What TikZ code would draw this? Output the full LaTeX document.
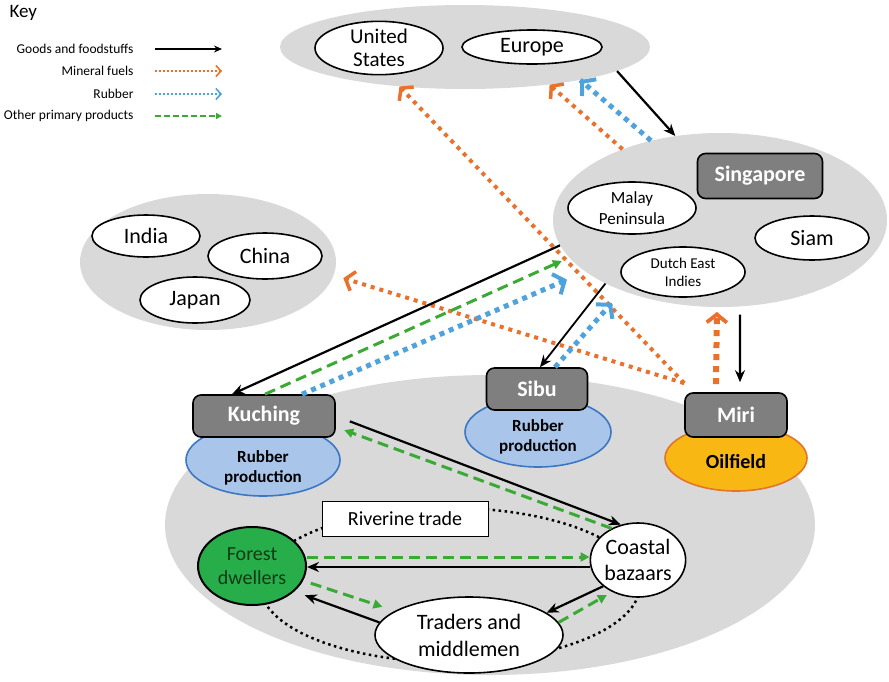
\documentclass[tikz,border=0pt]{standalone}
\usepackage{fontspec}
\setmainfont{Carlito}
\usetikzlibrary{arrows.meta,shapes.geometric,calc,decorations.markings}

\definecolor{grpgray}{HTML}{D9D9D9}
\definecolor{boxgray}{HTML}{7F7F7F}
\definecolor{fuelorange}{HTML}{E9712B}
\definecolor{rubberblue}{HTML}{4EA3DC}
\definecolor{primgreen}{HTML}{3AAA35}
\definecolor{rubfill}{HTML}{A9C6EA}
\definecolor{rubedge}{HTML}{3D77C2}
\definecolor{oilfill}{HTML}{F8B712}
\definecolor{oiledge}{HTML}{E3742A}
\definecolor{forestfill}{HTML}{27AE4A}
\definecolor{foresttext}{HTML}{103A16}

\newcommand{\fsz}[2]{\fontsize{#1}{#2}\selectfont}

\begin{document}
\begin{tikzpicture}[x=1pt, y=-1pt,
    grp/.style={ellipse, fill=grpgray, inner sep=0pt},
    place/.style={ellipse, draw, line width=1.6pt, fill=white, inner sep=0pt, align=center},
    town/.style={rectangle, rounded corners=8pt, draw, line width=1.6pt, fill=boxgray,
        text=white, font=\fsz{22}{24}\bfseries, inner sep=0pt},
    rubber/.style={ellipse, draw=rubedge, line width=1.6pt, fill=rubfill, inner sep=0pt},
    keytext/.style={anchor=east, font=\fsz{13.5}{15}},
    barbtip/.style={postaction=decorate, decoration={markings,
        mark=at position 1 with {\pgfsetdash{}{0pt}\arrow{Straight Barb[#1]}}}},
    goods/.style={line width=2.2pt, -{Stealth[length=12pt,width=10pt]}},
    fuel/.style={fuelorange, line width=4pt, dash pattern=on 4pt off 5pt,
        barbtip={length=8pt,width=20pt,line width=3.5pt}},
    rubberflow/.style={rubberblue, line width=5pt, dash pattern=on 5pt off 5pt,
        barbtip={length=9pt,width=22pt,line width=4pt}},
    other/.style={primgreen, line width=3pt, dash pattern=on 11pt off 6pt,
        -{Triangle[length=9pt,width=9pt]}}]

    \useasboundingbox (0,0) rectangle (889,681);

    % key
    \node[anchor=west, font=\fsz{19}{21}] (keytitle) at (6,13) {Key};
    \node[keytext] (kgoods) at (137,49) {Goods and foodstuffs};
    \node[keytext] (kfuel) at (137,71) {Mineral fuels};
    \node[keytext] (krubber) at (137,94) {Rubber};
    \node[keytext] (kother) at (137,116) {Other primary products};
    \draw[line width=1.8pt, -{Stealth[length=8pt,width=7pt]}]
        ([xshift=18pt]kgoods.east) -- ([xshift=85pt]kgoods.east);
    \draw[fuelorange, line width=1.8pt, dash pattern=on 2pt off 2pt,
        barbtip={length=5pt,width=11pt,line width=1.6pt}]
        ([xshift=18pt]kfuel.east) -- ([xshift=85pt]kfuel.east);
    \draw[rubberblue, line width=1.8pt, dash pattern=on 2pt off 2pt,
        barbtip={length=5pt,width=11pt,line width=1.6pt}]
        ([xshift=18pt]krubber.east) -- ([xshift=85pt]krubber.east);
    \draw[primgreen, line width=2.2pt, dash pattern=on 6pt off 3pt,
        -{Triangle[length=6pt,width=6pt]}]
        ([xshift=18pt]kother.east) -- ([xshift=85pt]kother.east);

    % markets overseas
    \node[grp, minimum width=370pt, minimum height=84pt] (westgrp) at (465,47) {};
    \node[place, minimum width=128pt, minimum height=50pt, font=\fsz{21}{23}] (us) at (379,48) {United\\States};
    \node[place, minimum width=140pt, minimum height=34pt, font=\fsz{22}{24}] (europe) at (532,47) {Europe};

    \node[grp, minimum width=334pt, minimum height=174pt] (sggrp) at (720,220) {};
    \node[town, minimum width=125pt, minimum height=45pt] (sg) at (760,176) {Singapore};
    \node[place, minimum width=128pt, minimum height=52pt, font=\fsz{17}{21}] (malay) at (632,208) {Malay\\Peninsula};
    \node[place, minimum width=114pt, minimum height=44pt, font=\fsz{22}{24}] (siam) at (812,238) {Siam};
    \node[place, minimum width=124pt, minimum height=50pt, font=\fsz{15}{18}] (dei) at (683,272) {Dutch East\\Indies};

    \node[grp, minimum width=256pt, minimum height=136pt] (asiagrp) at (208,262) {};
    \node[place, minimum width=108pt, minimum height=42pt, font=\fsz{22}{24}] (india) at (146,236) {India};
    \node[place, minimum width=114pt, minimum height=46pt, font=\fsz{22}{24}] (china) at (265,256) {China};
    \node[place, minimum width=110pt, minimum height=46pt, font=\fsz{22}{24}] (japan) at (195,300) {Japan};

    % Sarawak
    \node[grp, minimum width=650pt, minimum height=300pt] (sarawak) at (490,525) {};
    \node[ellipse, draw, line width=2.5pt, dash pattern=on 2.5pt off 3.5pt,
        minimum width=380pt, minimum height=154pt] (riverloop) at (450,585) {};

    \node[rubber, minimum width=154pt, minimum height=72pt,
        label={[yshift=-8pt, align=center, font=\fsz{17}{20}\bfseries]center:Rubber\\production}] (kurub) at (263,460) {};
    \node[town, minimum width=142pt, minimum height=42pt] (kuching) at (264,416) {Kuching};
    \node[rubber, minimum width=146pt, minimum height=70pt,
        label={[yshift=-5pt, align=center, font=\fsz{17}{20}\bfseries]center:Rubber\\production}] (sirub) at (538,432) {};
    \node[town, minimum width=101pt, minimum height=42pt] (sibu) at (537,389) {Sibu};
    \node[ellipse, draw=oiledge, line width=1.6pt, fill=oilfill, minimum width=142pt, minimum height=66pt,
        label={[yshift=-4pt, font=\fsz{20}{22}\bfseries]center:Oilfield}] (oil) at (736,458) {};
    \node[town, minimum width=102pt, minimum height=44pt] (miri) at (736,415) {Miri};

    \node[draw, line width=1pt, fill=white, minimum width=166pt, minimum height=35pt,
        inner sep=0pt, font=\fsz{20}{22}] (river) at (405,519) {Riverine trade};
    \node[ellipse, draw, line width=2pt, fill=forestfill, text=foresttext, align=center,
        minimum width=108pt, minimum height=78pt, inner sep=0pt, font=\fsz{20}{24}] (forest) at (252,566) {Forest\\dwellers};
    \node[place, minimum width=86pt, minimum height=74pt, font=\fsz{22}{26}] (coast) at (638,560) {Coastal\\bazaars};
    \node[place, minimum width=188pt, minimum height=76pt, font=\fsz{22}{27}] (traders) at (469,635) {Traders and\\middlemen};

    \coordinate (mirifuel) at ([yshift=9pt]miri.north west);
    \coordinate (mirioil) at ([xshift=-20pt,yshift=8pt]miri.north);
    \coordinate (kuchrub) at ([xshift=38pt]kuching.north);
    \coordinate (siburub) at ([xshift=18pt]sibu.north);

    % flows between the groups
    \draw[goods] (westgrp.-9.6) -- (sggrp.118);
    \draw[fuel] (sggrp.144.5) -- (westgrp.-24.5);
    \draw[rubberflow] (sggrp.131.5) -- (westgrp.-16.7);
    \draw[fuel] (mirifuel) -- (westgrp.-149.2);
    \draw[fuel] (mirifuel) -- ($(asiagrp.-6.3)!10pt!(mirifuel)$);
    \draw[fuel, line width=6pt, dash pattern=on 6pt off 6pt,
        barbtip={length=10pt,width=24pt,line width=4.5pt}] (mirioil) -- ($(sggrp.-92.5)!5pt!(mirioil)$);
    \draw[goods, shorten <=8pt, shorten >=10pt] (sggrp.-77.5) -- ([xshift=4pt]miri.north);
    \draw[goods] (sggrp.-171.4) -- ([xshift=-32pt]kuching.north);
    \draw[other, shorten >=8pt] ([xshift=1pt]kuching.north) -- (sggrp.-166);
    \draw[rubberflow] (kuchrub) -- ($(sggrp.-159.5)!20pt!(kuchrub)$);
    \draw[goods, line width=1.8pt] (sggrp.-151.2) -- ([xshift=3pt]sibu.north);
    \draw[rubberflow] (siburub) -- ($(sggrp.-144.8)!16pt!(siburub)$);

    % flows inside Sarawak
    \draw[goods, shorten <=15pt] (kuching.east) -- (coast.116);
    \draw[other, shorten >=9pt] (coast.130.4) -- ([yshift=-11pt]kuching.east);
    \draw[other] ([yshift=9pt]forest.east) -- ([yshift=3pt]coast.west);
    \draw[goods] ([yshift=-7pt]coast.west) -- ([yshift=-1pt]forest.east);
    \draw[other, shorten <=8pt, shorten >=13pt] (forest.-16.3) -- (traders.162);
    \draw[goods, shorten >=11pt] (traders.172.4) -- (forest.-31.3);
    \draw[goods] (coast.-143.7) -- (traders.16.8);
    \draw[other, shorten >=6pt] (traders.8.1) -- (coast.-129.6);
\end{tikzpicture}
\end{document}
